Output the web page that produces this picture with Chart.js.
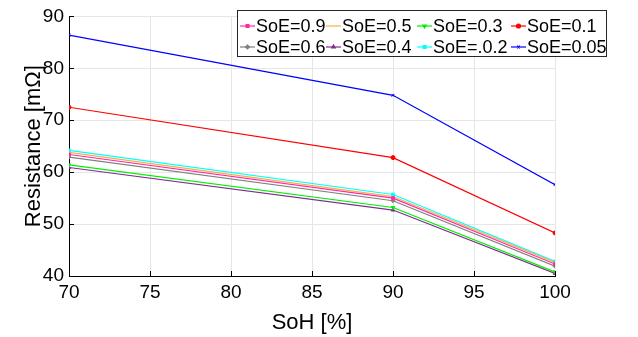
<!DOCTYPE html>
<html>
<head>
<meta charset="utf-8">
<script src="https://cdn.jsdelivr.net/npm/chart.js@4"></script>
<style>
  html, body { margin: 0; padding: 0; background: #fff; }
  #chart { display: block; }
</style>
</head>
<body>
<canvas id="chart" width="638" height="337"></canvas>
<script>
// ── Data ───────────────────────────────────────────────────────────────────
const soh = [70, 90, 100];
const soe09  = [63.4, 55.0, 42.3];
const soe05  = [63.8, 55.3, 42.6];
const soe03  = [61.4, 53.2, 40.8];
const soe01  = [72.5, 62.8, 48.3];
const soe06  = [62.9, 54.5, 41.9];
const soe04  = [60.9, 52.7, 40.5];
const soe02  = [64.2, 55.7, 42.8];
const soe005 = [86.4, 74.8, 57.6];

const xTicks = [70, 75, 80, 85, 90, 95, 100];
const yTicks = [40, 50, 60, 70, 80, 90];

const FONT = 'Liberation Sans, Arial, Helvetica, sans-serif';

// legend order: row 1 then row 2
const SERIES = [
  { label: 'SoE=0.9',  data: soe09,  color: '#ff2aa3', marker: 'rect' },
  { label: 'SoE=0.5',  data: soe05,  color: '#f2b14a', marker: false },
  { label: 'SoE=0.3',  data: soe03,  color: '#00ee00', marker: 'triangle', rot: 180 },
  { label: 'SoE=0.1',  data: soe01,  color: '#ff0000', marker: 'circle' },
  { label: 'SoE=0.6',  data: soe06,  color: '#808080', marker: 'rectRot' },
  { label: 'SoE=0.4',  data: soe04,  color: '#7e2f8e', marker: 'triangle' },
  { label: 'SoE=.0.2', data: soe02,  color: '#00ffff', marker: 'rect' },
  { label: 'SoE=0.05', data: soe005, color: '#0000ff', marker: 'crossRot' },
];

// ── Plugins ────────────────────────────────────────────────────────────────

// matlab style ticks pointing into the plot
const innerTicks = {
  id: 'innerTicks',
  afterDatasetsDraw(chart) {
    const { ctx, chartArea: a, scales: { x, y } } = chart;
    ctx.save();
    ctx.strokeStyle = '#000';
    ctx.lineWidth = 1;
    ctx.beginPath();
    xTicks.forEach(v => {
      const px = Math.round(x.getPixelForValue(v)) + 0.5;
      ctx.moveTo(px, a.bottom);
      ctx.lineTo(px, a.bottom - 5);
    });
    yTicks.forEach(v => {
      const py = Math.round(y.getPixelForValue(v)) + 0.5;
      ctx.moveTo(a.left, py);
      ctx.lineTo(a.left + 5, py);
    });
    ctx.stroke();
    ctx.restore();
  }
};

const boxLegend = {
  id: 'boxLegend',
  afterDraw(chart) {
    const { ctx } = chart;
    const left = 237.5, top = 10.5, w = 369, h = 46;
    const cols = [240, 326, 417, 511];
    const rows = [26, 47];
    ctx.save();
    ctx.fillStyle = '#fff';
    ctx.fillRect(left, top, w, h);
    ctx.strokeStyle = '#262626';
    ctx.lineWidth = 1;
    ctx.strokeRect(left, top, w, h);
    ctx.font = '18px ' + FONT;
    ctx.textBaseline = 'middle';
    SERIES.forEach((s, i) => {
      const cx = cols[i % 4], cy = rows[Math.floor(i / 4)];
      ctx.strokeStyle = s.color;
      ctx.lineWidth = 1.2;
      ctx.beginPath();
      ctx.moveTo(cx, cy);
      ctx.lineTo(cx + 15, cy);
      ctx.stroke();
      if (s.marker) {
        ctx.fillStyle = s.color;
        ctx.strokeStyle = s.color;
        Chart.helpers.drawPoint(ctx, {
          pointStyle: s.marker, radius: 2, borderWidth: 1, rotation: s.rot || 0
        }, cx + 7.5, cy);
      }
      ctx.fillStyle = '#000';
      ctx.fillText(s.label, cx + 16, cy + 1);
    });
    ctx.restore();
  }
};

// ── Chart ──────────────────────────────────────────────────────────────────

new Chart(document.getElementById('chart'), {
  type: 'line',
  data: {
    datasets: SERIES.map(s => ({
      label: s.label,
      data: soh.map((x, i) => ({ x, y: s.data[i] })),
      borderColor: s.color,
      backgroundColor: s.color,
      borderWidth: 1.2,
      pointStyle: s.marker || false,
      pointRotation: s.rot || 0,
      pointRadius: s.marker ? 2 : 0,
      pointBorderWidth: 1,
      tension: 0,
      fill: false,
    }))
  },
  options: {
    responsive: false,
    animation: false,
    layout: { padding: { left: 0, right: 83, top: 14, bottom: 0 } },
    plugins: {
      legend: { display: false },
      tooltip: { enabled: false },
    },
    scales: {
      x: {
        type: 'linear',
        min: 70, max: 100,
        afterBuildTicks: s => { s.ticks = xTicks.map(v => ({ value: v })); },
        afterFit: s => { s.height = 61; },
        grid: { color: '#e6e6e6', drawTicks: false },
        border: { display: true, color: '#000', width: 1 },
        ticks: { color: '#000', padding: 5, maxRotation: 0, font: { family: FONT, size: 19 } },
        title: {
          display: true, text: 'SoH [%]', color: '#000',
          font: { family: FONT, size: 22 }, padding: { top: 0, bottom: 1 }
        }
      },
      y: {
        type: 'linear',
        min: 40, max: 90,
        afterBuildTicks: s => { s.ticks = yTicks.map(v => ({ value: v })); },
        afterFit: s => { s.width = 69; },
        grid: { color: '#e6e6e6', drawTicks: false },
        border: { display: true, color: '#000', width: 1 },
        ticks: { color: '#000', padding: 5, font: { family: FONT, size: 19 } },
        title: {
          display: true, text: 'Resistance [mΩ]', color: '#000',
          font: { family: FONT, size: 22 }, padding: { top: 21, bottom: 0 }
        }
      }
    }
  },
  plugins: [innerTicks, boxLegend]
});
</script>
</body>
</html>
